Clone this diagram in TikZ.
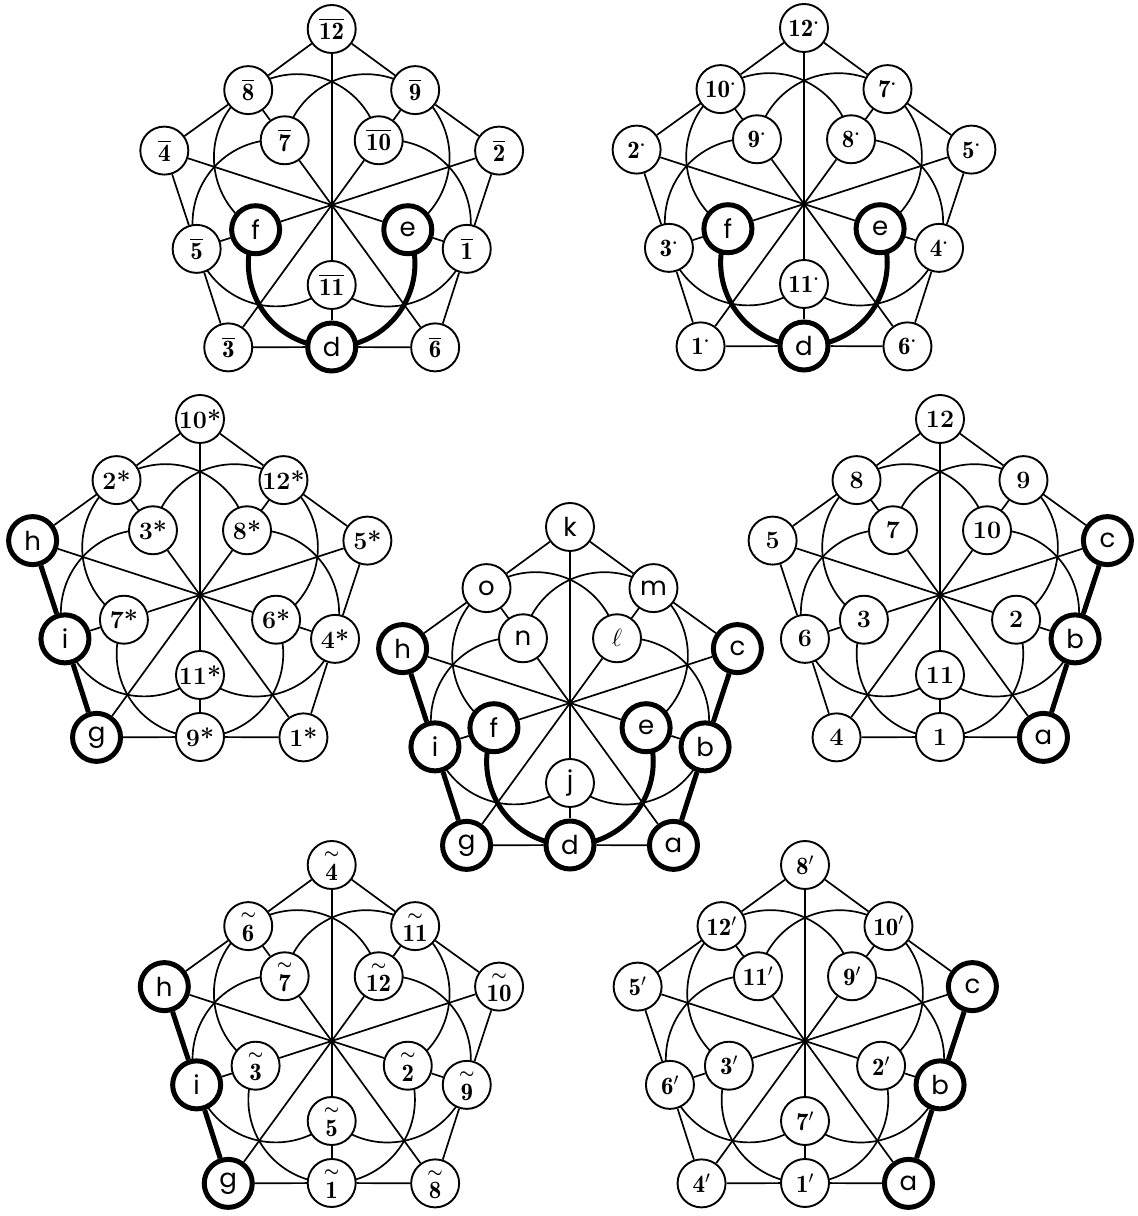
\documentclass[tikz,border=0pt]{standalone}
\usepackage{amsmath}
\usepackage{fontspec}
\newfontfamily\ltf{Poppins}
\pgfdeclarelayer{bg}
\pgfsetlayers{bg,main}
\newcommand\nLt[1]{{\fontsize{26}{26}\selectfont\ltf\mdseries #1}}
\newcommand\nOb[1]{$\overline{\mathbf{#1}}$}
\newcommand\nDt[1]{$\mathbf{#1}^{\boldsymbol{\cdot}}$}
\newcommand\nSt[1]{#1*}
\newcommand\nTl[1]{$\overset{\scriptstyle\boldsymbol{\sim}}{\mathbf{#1}}$}
\newcommand\nPm[1]{$\mathbf{#1}'$}
\tikzset{
  nd/.style={circle,draw,fill=white,line width=1.9pt,minimum size=48pt,inner sep=0pt,
    font=\fontsize{25}{25}\selectfont\bfseries},
  ndT/.style={nd,line width=5pt},
  ed/.style={line width=1.7pt},
  edT/.style={line width=5pt},
  pV0/.style={at={(90:176pt)}},
  pV1/.style={at={(162:176pt)}},
  pV2/.style={at={(234:176pt)}},
  pV3/.style={at={(306:176pt)}},
  pV4/.style={at={(18:176pt)}},
  pM0/.style={at={(126:142pt)}},
  pM1/.style={at={(198:142pt)}},
  pM2/.style={at={(270:142pt)}},
  pM3/.style={at={(342:142pt)}},
  pM4/.style={at={(54:142pt)}},
  pI0/.style={at={(126:80pt)}},
  pI1/.style={at={(198:80pt)}},
  pI2/.style={at={(270:80pt)}},
  pI3/.style={at={(342:80pt)}},
  pI4/.style={at={(54:80pt)}},
}
\newcommand\pgedges[1]{%
  \begin{pgfonlayer}{bg}
  \foreach \k in {0,...,4}{%
    \pgfmathtruncatemacro\kn{mod(\k+1,5)}%
    \pgfmathtruncatemacro\kp{mod(\k+4,5)}%
    \pgfmathtruncatemacro\kt{mod(\k+2,5)}%
    \pgfmathsetmacro\sa{11.9+72*\k}%
    \draw[ed] (#1-V\k) -- (#1-M\k) -- (#1-V\kn);
    \draw[ed] (#1-M\k) -- (#1-I\k);
    \draw[ed] (#1-V\k) -- (#1-I\kt);
    \draw[ed] (#1-I\kp.center) arc[start angle=\sa, delta angle=228.2, radius=83.3pt];
  }%
  \end{pgfonlayer}}
\newcommand\thickarc[1]{\begin{pgfonlayer}{bg}
  \draw[edT] (#1-I1.center) arc[start angle=155.9, delta angle=228.2, radius=83.3pt];
  \end{pgfonlayer}}
\newcommand\thickL[1]{\begin{pgfonlayer}{bg}
  \draw[edT] (#1-V1) -- (#1-M1) -- (#1-V2);
  \end{pgfonlayer}}
\newcommand\thickR[1]{\begin{pgfonlayer}{bg}
  \draw[edT] (#1-V3) -- (#1-M3) -- (#1-V4);
  \end{pgfonlayer}}
\begin{document}
\begin{tikzpicture}
\useasboundingbox (0pt,0pt) rectangle (1138pt,1216pt);
% ---------- graph A (top left)
\begin{scope}[shift={(331.7pt,1011pt)}]
\node[nd,pV0] (A-V0) {\nOb{12}};
\node[nd,pV1] (A-V1) {\nOb{4}};
\node[nd,pV2] (A-V2) {\nOb{3}};
\node[nd,pV3] (A-V3) {\nOb{6}};
\node[nd,pV4] (A-V4) {\nOb{2}};
\node[nd,pM0] (A-M0) {\nOb{8}};
\node[nd,pM1] (A-M1) {\nOb{5}};
\node[ndT,pM2] (A-M2) {\nLt{d}};
\node[nd,pM3] (A-M3) {\nOb{1}};
\node[nd,pM4] (A-M4) {\nOb{9}};
\node[nd,pI0] (A-I0) {\nOb{7}};
\node[ndT,pI1] (A-I1) {\nLt{f}};
\node[nd,pI2] (A-I2) {\nOb{11}};
\node[ndT,pI3] (A-I3) {\nLt{e}};
\node[nd,pI4] (A-I4) {\nOb{10}};
\pgedges{A}
\thickarc{A}
\end{scope}
% ---------- graph B (top right)
\begin{scope}[shift={(804pt,1012pt)}]
\node[nd,pV0] (B-V0) {\nDt{12}};
\node[nd,pV1] (B-V1) {\nDt{2}};
\node[nd,pV2] (B-V2) {\nDt{1}};
\node[nd,pV3] (B-V3) {\nDt{6}};
\node[nd,pV4] (B-V4) {\nDt{5}};
\node[nd,pM0] (B-M0) {\nDt{10}};
\node[nd,pM1] (B-M1) {\nDt{3}};
\node[ndT,pM2] (B-M2) {\nLt{d}};
\node[nd,pM3] (B-M3) {\nDt{4}};
\node[nd,pM4] (B-M4) {\nDt{7}};
\node[nd,pI0] (B-I0) {\nDt{9}};
\node[ndT,pI1] (B-I1) {\nLt{f}};
\node[nd,pI2] (B-I2) {\nDt{11}};
\node[ndT,pI3] (B-I3) {\nLt{e}};
\node[nd,pI4] (B-I4) {\nDt{8}};
\pgedges{B}
\thickarc{B}
\end{scope}
% ---------- graph C (middle left)
\begin{scope}[shift={(200pt,621pt)}]
\node[nd,pV0] (C-V0) {\nSt{10}};
\node[ndT,pV1] (C-V1) {\nLt{h}};
\node[ndT,pV2] (C-V2) {\nLt{g}};
\node[nd,pV3] (C-V3) {\nSt{1}};
\node[nd,pV4] (C-V4) {\nSt{5}};
\node[nd,pM0] (C-M0) {\nSt{2}};
\node[ndT,pM1] (C-M1) {\nLt{i}};
\node[nd,pM2] (C-M2) {\nSt{9}};
\node[nd,pM3] (C-M3) {\nSt{4}};
\node[nd,pM4] (C-M4) {\nSt{12}};
\node[nd,pI0] (C-I0) {\nSt{3}};
\node[nd,pI1] (C-I1) {\nSt{7}};
\node[nd,pI2] (C-I2) {\nSt{11}};
\node[nd,pI3] (C-I3) {\nSt{6}};
\node[nd,pI4] (C-I4) {\nSt{8}};
\pgedges{C}
\thickL{C}
\end{scope}
% ---------- graph D (centre)
\begin{scope}[shift={(570pt,513pt)}]
\node[nd,pV0] (D-V0) {\nLt{k}};
\node[ndT,pV1] (D-V1) {\nLt{h}};
\node[ndT,pV2] (D-V2) {\nLt{g}};
\node[ndT,pV3] (D-V3) {\nLt{a}};
\node[ndT,pV4] (D-V4) {\nLt{c}};
\node[nd,pM0] (D-M0) {\nLt{o}};
\node[ndT,pM1] (D-M1) {\nLt{i}};
\node[ndT,pM2] (D-M2) {\nLt{d}};
\node[ndT,pM3] (D-M3) {\nLt{b}};
\node[nd,pM4] (D-M4) {\nLt{m}};
\node[nd,pI0] (D-I0) {\nLt{n}};
\node[ndT,pI1] (D-I1) {\nLt{f}};
\node[nd,pI2] (D-I2) {\nLt{j}};
\node[ndT,pI3] (D-I3) {\nLt{e}};
\node[nd,pI4] (D-I4) {\mdseries$\ell$};
\pgedges{D}
\thickarc{D}
\thickL{D}
\thickR{D}
\end{scope}
% ---------- graph E (middle right)
\begin{scope}[shift={(940pt,621pt)}]
\node[nd,pV0] (E-V0) {12};
\node[nd,pV1] (E-V1) {5};
\node[nd,pV2] (E-V2) {4};
\node[ndT,pV3] (E-V3) {\nLt{a}};
\node[ndT,pV4] (E-V4) {\nLt{c}};
\node[nd,pM0] (E-M0) {8};
\node[nd,pM1] (E-M1) {6};
\node[nd,pM2] (E-M2) {1};
\node[ndT,pM3] (E-M3) {\nLt{b}};
\node[nd,pM4] (E-M4) {9};
\node[nd,pI0] (E-I0) {7};
\node[nd,pI1] (E-I1) {3};
\node[nd,pI2] (E-I2) {11};
\node[nd,pI3] (E-I3) {2};
\node[nd,pI4] (E-I4) {10};
\pgedges{E}
\thickR{E}
\end{scope}
% ---------- graph F (bottom left)
\begin{scope}[shift={(331.7pt,175pt)}]
\node[nd,pV0] (F-V0) {\nTl{4}};
\node[ndT,pV1] (F-V1) {\nLt{h}};
\node[ndT,pV2] (F-V2) {\nLt{g}};
\node[nd,pV3] (F-V3) {\nTl{8}};
\node[nd,pV4] (F-V4) {\nTl{10}};
\node[nd,pM0] (F-M0) {\nTl{6}};
\node[ndT,pM1] (F-M1) {\nLt{i}};
\node[nd,pM2] (F-M2) {\nTl{1}};
\node[nd,pM3] (F-M3) {\nTl{9}};
\node[nd,pM4] (F-M4) {\nTl{11}};
\node[nd,pI0] (F-I0) {\nTl{7}};
\node[nd,pI1] (F-I1) {\nTl{3}};
\node[nd,pI2] (F-I2) {\nTl{5}};
\node[nd,pI3] (F-I3) {\nTl{2}};
\node[nd,pI4] (F-I4) {\nTl{12}};
\pgedges{F}
\thickL{F}
\end{scope}
% ---------- graph G (bottom right)
\begin{scope}[shift={(805pt,175pt)}]
\node[nd,pV0] (G-V0) {\nPm{8}};
\node[nd,pV1] (G-V1) {\nPm{5}};
\node[nd,pV2] (G-V2) {\nPm{4}};
\node[ndT,pV3] (G-V3) {\nLt{a}};
\node[ndT,pV4] (G-V4) {\nLt{c}};
\node[nd,pM0] (G-M0) {\nPm{12}};
\node[nd,pM1] (G-M1) {\nPm{6}};
\node[nd,pM2] (G-M2) {\nPm{1}};
\node[ndT,pM3] (G-M3) {\nLt{b}};
\node[nd,pM4] (G-M4) {\nPm{10}};
\node[nd,pI0] (G-I0) {\nPm{11}};
\node[nd,pI1] (G-I1) {\nPm{3}};
\node[nd,pI2] (G-I2) {\nPm{7}};
\node[nd,pI3] (G-I3) {\nPm{2}};
\node[nd,pI4] (G-I4) {\nPm{9}};
\pgedges{G}
\thickR{G}
\end{scope}
\end{tikzpicture}
\end{document}
